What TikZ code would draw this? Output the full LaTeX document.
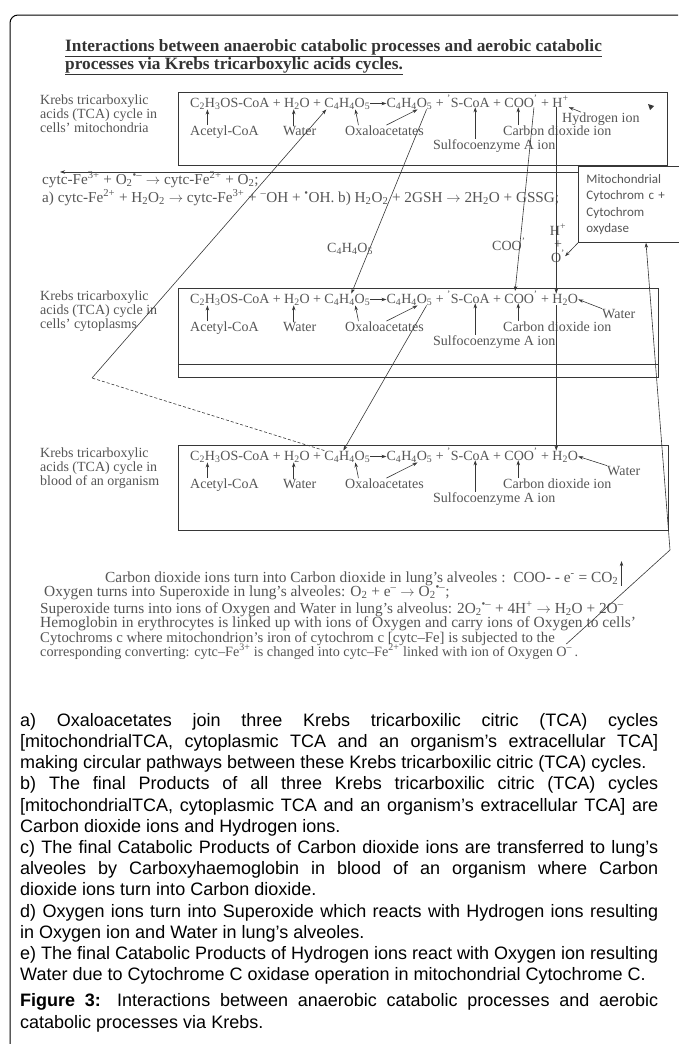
\documentclass[tikz,border=0pt]{standalone}
\usepackage{fontspec}
\setmainfont{Liberation Serif}
\newfontfamily\arialfont{Liberation Sans}
\newfontfamily\calibrifont{Carlito}
\usetikzlibrary{arrows.meta,calc}
\definecolor{ink}{RGB}{85,85,85}
\definecolor{rule}{RGB}{55,55,55}
\newcommand{\eqplus}{\hspace{3pt}+\hspace{3pt}\null}
\newcommand{\cfour}{C\textsubscript{4}H\textsubscript{4}O\textsubscript{5}}

\begin{document}
\begin{tikzpicture}[x=1pt,y=-1pt,
    font=\fontsize{14}{14}\selectfont,
    eqt/.style={inner sep=0pt,anchor=base west,text=ink},
    arr/.style={-{Stealth[length=5pt,width=3.5pt]},rule,line width=0.6pt},
    tcabox/.style={rule,line width=0.8pt}]
  \useasboundingbox (0,0) rectangle (678,1044);
  \draw[line width=1pt,rounded corners=8pt] (10,1044) -- (10,15) -- (678,15);

  % title
  \node[eqt,text=black!80,font=\fontsize{17.3}{17}\selectfont\bfseries] (title1) at (65,51)
    {\underline{Interactions between anaerobic catabolic processes and aerobic catabolic}};
  \node[eqt,text=black!80,font=\fontsize{17.3}{17}\selectfont\bfseries] (title2) at (65,69)
    {\underline{processes via Krebs tricarboxylic acids cycles.}};

  % the three TCA rows
  \foreach \rw/\yt/\yb/\bx/\celllab/\endterm/\sidelab/\sx in {
      a/92/165/667/{cells’ mitochondria}/{H\textsuperscript{+}}/{Hydrogen ion}/562,
      b/288/377/658/{cells’ cytoplasms}/{H\textsubscript{2}O}/{Water}/602,
      c/445/530/668/{blood of an organism}/{H\textsubscript{2}O}/{Water}/607}{
    \draw[tcabox] (178,\yt) rectangle (\bx,\yb);
    \node[eqt,anchor=north west,align=left] (krebs\rw) at (40,\yt+3)
      {Krebs tricarboxylic\\acids (TCA) cycle in\\\celllab};
    % equation
    \node[eqt] (acoa\rw) at (190,\yt+15) {C\textsubscript{2}H\textsubscript{3}OS-CoA};
    \node[eqt] (pa\rw) at (acoa\rw.base east) {\eqplus};
    \node[eqt] (wat\rw) at (pa\rw.base east) {H\textsubscript{2}O};
    \node[eqt] (pb\rw) at (wat\rw.base east) {\eqplus};
    \node[eqt] (oxa\rw) at (pb\rw.base east) {\cfour};
    \node[eqt] (oxb\rw) at ($(oxa\rw.base east)+(16,0)$) {\cfour};
    \draw[arr] (oxa\rw.east) -- (oxb\rw.west);
    \node[eqt] (pc\rw) at (oxb\rw.base east) {\eqplus};
    \node[eqt] (scoa\rw) at (pc\rw.base east) {\textsuperscript{’}S-CoA};
    \node[eqt] (pd\rw) at (scoa\rw.base east) {\eqplus};
    \node[eqt] (coo\rw) at (pd\rw.base east) {COO\textsuperscript{’}};
    \node[eqt] (pe\rw) at (coo\rw.base east) {\eqplus};
    \node[eqt] (hend\rw) at (pe\rw.base east) {\endterm};
    % labels
    \node[eqt] (acl\rw) at (190,\yt+43) {Acetyl-CoA};
    \node[eqt] (wal\rw) at (283,\yt+43) {Water};
    \node[eqt] (oxl\rw) at (345,\yt+43) {Oxaloacetates};
    \node[eqt] (cdl\rw) at (503,\yt+43) {Carbon dioxide ion};
    \node[eqt] (sul\rw) at (433,\yt+57) {Sulfocoenzyme A ion};
    \node[eqt] (side\rw) at (\sx,\yt+30) {\sidelab};
    % label arrows
    \coordinate (ua\rw) at ([xshift=-17pt]acl\rw.north);
    \coordinate (uw\rw) at ([xshift=-6pt]wal\rw.north);
    \coordinate (us\rw) at ([xshift=-19pt]sul\rw.north);
    \coordinate (uc\rw) at ([xshift=-39pt]cdl\rw.north);
    \draw[arr] (ua\rw) -- (ua\rw |- acoa\rw.south);
    \draw[arr] (uw\rw) -- (uw\rw |- wat\rw.south);
    \draw[arr] (us\rw) -- (us\rw |- scoa\rw.south);
    \draw[arr] (uc\rw) -- (uc\rw |- coo\rw.south);
    \draw[arr] ([xshift=-26pt]oxl\rw.north) -- ([xshift=8pt]oxa\rw.south);
    \draw[arr] ([xshift=2pt]oxl\rw.north) -- ([xshift=8pt]oxb\rw.south);
  }
  \draw[tcabox] (178,364) -- (658,364);
  \draw[arr] ([xshift=-20pt]sidea.north) -- (henda.south east);
  \draw[arr] (sideb.north west) -- (hendb.east);
  \draw[arr] (sidec.north west) -- (hendc.east);
  \fill[rule] (648,104) -- (654,106) -- (650,110) -- cycle;

  % cytochrome block
  \node[draw=rule,line width=0.8pt,anchor=north west,align=left,text width=110pt,
    minimum height=76pt,inner xsep=8pt,inner ysep=5pt,text=ink,
    font=\calibrifont\fontsize{13}{16.5}\selectfont] (mito) at (578,166)
    {Mitochondrial\\Cytochrom c +\\Cytochrom\\oxydase};
  \coordinate (cyend) at (60,172);
  \draw[arr] (mito.west |- cyend) -- (cyend);
  \node[eqt,font=\fontsize{15.2}{15}\selectfont] (cyt1) at (42,184)
    {cytc-Fe\textsuperscript{3+} + O\textsubscript{2}\textsuperscript{•–} $\rightarrow$ cytc-Fe\textsuperscript{2+} + O\textsubscript{2};};
  \node[eqt,font=\fontsize{15.2}{15}\selectfont] (cyt2) at (42,202)
    {a) cytc-Fe\textsuperscript{2+} + H\textsubscript{2}O\textsubscript{2} $\rightarrow$ cytc-Fe\textsuperscript{3+} + \textsuperscript{–}OH + \textsuperscript{•}OH. b) H\textsubscript{2}O\textsubscript{2} + 2GSH $\rightarrow$ 2H\textsubscript{2}O + GSSG;};
  \node[eqt] (c4mid) at (327,252) {\cfour};
  \node[eqt] (coomid) at (492,250) {COO\textsuperscript{’}};
  \node[eqt,anchor=base] (hmid) at (558,235) {H\textsuperscript{+}};
  \node[eqt,anchor=base] (plmid) at (558,248) {+};
  \node[eqt,anchor=base] (omid) at (558,262) {O\textsuperscript{’}};
  \draw[arr] (mito.south west) -- (omid.east);

  % oxaloacetate and product pathways between rows
  \coordinate (apex) at (92,378);
  \draw[rule,line width=0.6pt,densely dashed] (oxac.north west) -- (apex);
  \draw[arr] (apex) -- ([xshift=2pt]oxaa.south west);
  \draw[arr] ([xshift=-6pt]oxba.south east) -- ([xshift=4pt]oxab.north);
  \draw[arr] ([xshift=-6pt]oxbb.south east) -- ([xshift=-4pt]oxac.north);
  \draw[arr] ([xshift=-4pt]cooa.south east) -- ([xshift=-6pt]coob.north);
  \coordinate (hx) at ([xshift=4pt]henda.south west);
  \draw[arr] (hx) -- (hx |- hendb.north);
  \draw[arr] (hx |- hendb.south) -- (hx |- hendc.north);

  % lung reactions
  \node[eqt,font=\fontsize{15.4}{15}\selectfont] (bt1) at (105,582) {Carbon dioxide ions turn into Carbon dioxide in lung’s alveoles :\ \ COO- - e\textsuperscript{-} = CO\textsubscript{2}};
  \node[eqt,font=\fontsize{15.4}{15}\selectfont] (bt2) at (44,596) {Oxygen turns into Superoxide in lung’s alveoles: O\textsubscript{2} + e\textsuperscript{–} $\rightarrow$ O\textsubscript{2}\textsuperscript{•–};};
  \node[eqt,font=\fontsize{15.3}{15}\selectfont] (bt3) at (40,613) {Superoxide turns into ions of Oxygen and Water in lung’s alveolus: 2O\textsubscript{2}\textsuperscript{•–} + 4H\textsuperscript{+} $\rightarrow$ H\textsubscript{2}O + 2O\textsuperscript{–}};
  \node[eqt,font=\fontsize{15.5}{15}\selectfont] (bt4) at (40,627) {Hemoglobin in erythrocytes is linked up with ions of Oxygen and carry ions of Oxygen to cells’};
  \node[eqt,font=\fontsize{14.8}{15}\selectfont] (bt5) at (40,642) {Cytochroms c where mitochondrion’s iron of cytochrom c [cytc–Fe] is subjected to the};
  \node[eqt,font=\fontsize{14.2}{15}\selectfont] (bt6) at (40,656) {corresponding converting: cytc–Fe\textsuperscript{3+} is changed into cytc–Fe\textsuperscript{2+} linked with ion of Oxygen O\textsuperscript{–}\,.};
  \draw[arr] ([xshift=3pt]bt1.south east) -- ([xshift=3pt,yshift=10pt]bt1.north east);
  \coordinate (lbend) at (670,550);
  \coordinate (mitoin) at ([xshift=68pt]mito.south west);
  \draw[arr] ([xshift=-12pt]bt6.north east) -- (lbend) -- (mitoin);

  % notes
  \node[anchor=north west,inner sep=0pt,text width=638pt,align=justify,
    font=\arialfont\fontsize{18}{21.2}\selectfont] (notes) at (20,713) {%
    a) Oxaloacetates join three Krebs tricarboxilic citric (TCA) cycles\linebreak
    {[}mitochondrialTCA, cytoplasmic TCA and an organism’s extracellular TCA]\linebreak
    making circular pathways between these Krebs tricarboxilic citric (TCA) cycles.\par
    b) The final Products of all three Krebs tricarboxilic citric (TCA) cycles\linebreak
    {[}mitochondrialTCA, cytoplasmic TCA and an organism’s extracellular TCA] are\linebreak
    Carbon dioxide ions and Hydrogen ions.\par
    c) The final Catabolic Products of Carbon dioxide ions are transferred to lung’s\linebreak
    alveoles by Carboxyhaemoglobin in blood of an organism where Carbon\linebreak
    dioxide ions turn into Carbon dioxide.\par
    d) Oxygen ions turn into Superoxide which reacts with Hydrogen ions resulting\linebreak
    in Oxygen ion and Water in lung’s alveoles.\par
    e) The final Catabolic Products of Hydrogen ions react with Oxygen ion resulting\linebreak
    Water due to Cytochrome C oxidase operation in mitochondrial Cytochrome C.\par
    \vspace{5pt}\textbf{Figure 3:} Interactions between anaerobic catabolic processes and aerobic\linebreak
    catabolic processes via Krebs.};
\end{tikzpicture}
\end{document}
